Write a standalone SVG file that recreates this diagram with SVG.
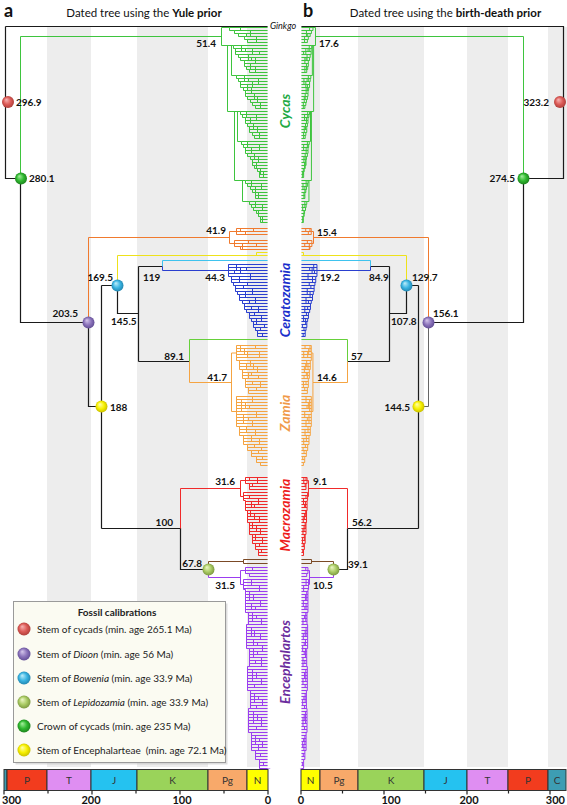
<svg xmlns="http://www.w3.org/2000/svg" xmlns:xlink="http://www.w3.org/1999/xlink" width="567" height="805" viewBox="0 0 567 805">
<style>
.t{font-family:Lato,'Liberation Sans',sans-serif;fill:#111}
.n{font-family:Lato,'Liberation Sans',sans-serif;font-weight:bold;font-size:10px;fill:#111}
.e{text-anchor:end}
.m{text-anchor:middle}
.bk{fill:none;stroke:#1a1a1a;stroke-width:1.2}
.ln{fill:none;stroke-width:1}
.tr path{vector-effect:non-scaling-stroke;stroke-width:1}
.band{fill:#ededed}
.clade{font-family:Lato,'Liberation Sans',sans-serif;font-weight:bold;font-style:italic;font-size:14px;text-anchor:middle}
.per{stroke:#333;stroke-width:1}
.pl{font-family:Lato,'Liberation Sans',sans-serif;font-size:10px;fill:#333;text-anchor:middle}
.ax{font-family:Lato,'Liberation Sans',sans-serif;font-weight:bold;font-size:11px;fill:#111}
.leg{font-family:Lato,'Liberation Sans',sans-serif;font-size:10px;fill:#222}
</style>
<defs>
<pattern id="pCy" width="6" height="3" patternUnits="userSpaceOnUse"><rect width="6" height="1" fill="#3ec43e"/></pattern>
<pattern id="pDi" width="6" height="3" patternUnits="userSpaceOnUse"><rect width="6" height="1" fill="#f07a2e"/></pattern>
<pattern id="pCe" width="6" height="3" patternUnits="userSpaceOnUse"><rect width="6" height="1" fill="#2a3fcf"/></pattern>
<pattern id="pZa" width="6" height="3" patternUnits="userSpaceOnUse"><rect width="6" height="1" fill="#f5a442"/></pattern>
<pattern id="pMa" width="6" height="3" patternUnits="userSpaceOnUse"><rect width="6" height="1" fill="#f02a2a"/></pattern>
<pattern id="pEn" width="6" height="3" patternUnits="userSpaceOnUse"><rect width="6" height="1" fill="#9b3df0"/></pattern>
<radialGradient id="gR" cx="0.5" cy="0.5" r="0.55" fx="0.35" fy="0.3"><stop offset="0" stop-color="#f7b5b5"/><stop offset="0.55" stop-color="#dc5b57"/><stop offset="1" stop-color="#a83a36"/></radialGradient>
<radialGradient id="gG" cx="0.5" cy="0.5" r="0.55" fx="0.35" fy="0.3"><stop offset="0" stop-color="#a8f0a0"/><stop offset="0.55" stop-color="#2fb82f"/><stop offset="1" stop-color="#1b7a1b"/></radialGradient>
<radialGradient id="gP" cx="0.5" cy="0.5" r="0.55" fx="0.35" fy="0.3"><stop offset="0" stop-color="#d6c8ec"/><stop offset="0.55" stop-color="#8c74bb"/><stop offset="1" stop-color="#5c4890"/></radialGradient>
<radialGradient id="gY" cx="0.5" cy="0.5" r="0.55" fx="0.35" fy="0.3"><stop offset="0" stop-color="#ffffb0"/><stop offset="0.55" stop-color="#f7f000"/><stop offset="1" stop-color="#c2b800"/></radialGradient>
<radialGradient id="gC" cx="0.5" cy="0.5" r="0.55" fx="0.35" fy="0.3"><stop offset="0" stop-color="#c0eefa"/><stop offset="0.55" stop-color="#3ab4e2"/><stop offset="1" stop-color="#1f7fa8"/></radialGradient>
<radialGradient id="gL" cx="0.5" cy="0.5" r="0.55" fx="0.35" fy="0.3"><stop offset="0" stop-color="#eef8c8"/><stop offset="0.55" stop-color="#aacb64"/><stop offset="1" stop-color="#74903a"/></radialGradient>

<g id="tCycas" class="tr">
<path fill="url(#pCy)" stroke="#3ec43e" d="M270 27.5H229.5v3h5v3h4v3h6v3h3V42.5H270Z M270 45.5H233.5v3h2v6h3v3h2v3h4v6h2v3h3V72.5H270Z M270 75.5H236.5v3h2v3h2v6h3v3h2v6h2v3h3v3h2v3h3V108.5H270Z M270 111.5H240.5v3h2v3h3v6h2v3h2v6h3v3h2V138.5H270Z M270 141.5H241.5v3h2v3h2v6h2v3h3v3h2v6h2v3h3v3h2V177.5H270Z M270 180.5H245.5v3h2v3h3v3h2v3h3V198.5H270Z M270 201.5H249.5v3h2v3h2v3h3v3h2v3h2V222.5H270Z"/>
<path fill="none" stroke="#3ec43e" d="M221.5 27.5V45.5M221.5 27.5H229.5M221.5 45.5H233.5M227.5 45.5V111.5M231.5 45.5V75.5M231.5 75.5H236.5M227.5 111.5H240.5M234.5 111.5V180.5M237.5 111.5V141.5M237.5 141.5H241.5M234.5 180.5H245.5M242.5 180.5V201.5M242.5 201.5H249.5M252.5 48.5V54.5M255.5 57.5V63.5M258.5 78.5V84.5M256.5 114.5V120.5M259.5 144.5V150.5M258.5 156.5V162.5M261.5 183.5V189.5M262.5 204.5V210.5M250.5 30.5V36.5M240.5 27.5V30.5M246.5 33.5V36.5M256.5 36.5V42.5M241.5 45.5V51.5M245.5 48.5V51.5M248.5 54.5V60.5M251.5 57.5V60.5M250.5 63.5V69.5M255.5 66.5V72.5M259.5 51.5V54.5M244.5 75.5V81.5M248.5 78.5V81.5M247.5 84.5V90.5M251.5 87.5V93.5M254.5 93.5V99.5M257.5 96.5V102.5M260.5 102.5V108.5M252.5 81.5V87.5M246.5 111.5V117.5M250.5 117.5V123.5M253.5 123.5V129.5M257.5 126.5V132.5M259.5 132.5V138.5M247.5 141.5V147.5M251.5 147.5V153.5M254.5 153.5V159.5M252.5 159.5V165.5M256.5 162.5V168.5M260.5 168.5V174.5M263.5 171.5V177.5M251.5 180.5V186.5M255.5 186.5V192.5M258.5 192.5V198.5M255.5 201.5V207.5M258.5 210.5V216.5M262.5 216.5V222.5"/>
</g>
<g id="tDioon" class="tr">
<path fill="url(#pDi)" stroke="#f07a2e" d="M270 228.5H236.5V234.5H270Z M270 240.5H234.5V246.5H240.5V249.5H270Z"/>
<path fill="none" stroke="#f07a2e" d="M229.5 231.5V243.5M229.5 231.5H236.5M229.5 243.5H234.5M245.5 231.5V234.5M242.5 243.5V249.5M248.5 240.5V243.5M240.5 228.5V231.5M253.5 228.5V231.5M256.5 243.5V246.5"/>
</g>
<g id="tCerato" class="tr">
<path fill="url(#pCe)" stroke="#2a3fcf" d="M270 264.5H228.5V276.5h3v6h2v3h2v6h2v3h2v6h3v3h2v6h2v3h3v6h2v3h2v6h2v3h2V336.5H270Z"/>
<path fill="none" stroke="#2a3fcf" d="M236.5 264.5V270.5M240.5 267.5V273.5M234.5 270.5V273.5M239.5 276.5V282.5M243.5 285.5V288.5M245.5 291.5V297.5M249.5 300.5V303.5M251.5 306.5V309.5M254.5 312.5V315.5M256.5 318.5V324.5M260.5 327.5V330.5M262.5 333.5V336.5M246.5 267.5V270.5M250.5 273.5V279.5M247.5 282.5V285.5M252.5 288.5V294.5M255.5 297.5V303.5M258.5 306.5V312.5M261.5 315.5V321.5M264.5 324.5V327.5"/>
</g>
<g id="tZamia" class="tr">
<path fill="url(#pZa)" stroke="#f5a442" d="M270 345.5H236.5V360.5H239.5V369.5H242.5V378.5H245.5V387.5H248.5V393.5H270Z M270 396.5H236.5V426.5H239.5V435.5H243.5V444.5H247.5V450.5H251.5V456.5H256.5V462.5H260.5V465.5H270Z"/>
<path fill="none" stroke="#f5a442" d="M231.5 353V411.5M231.5 353H236.5M231.5 411.5H236.5M240.5 345.5V351.5M244.5 348.5V354.5M247.5 351.5V357.5M250.5 360.5V366.5M253.5 363.5V369.5M248.5 372.5V378.5M252.5 381.5V384.5M256.5 387.5V390.5M258.5 375.5V378.5M241.5 399.5V411.5M245.5 402.5V408.5M249.5 405.5V408.5M243.5 414.5V423.5M248.5 417.5V420.5M246.5 426.5V432.5M251.5 435.5V441.5M254.5 444.5V447.5M258.5 450.5V453.5M262.5 456.5V459.5M255.5 345.5V348.5M259.5 351.5V357.5M246.5 363.5V369.5M257.5 366.5V372.5M251.5 372.5V375.5M260.5 381.5V387.5M252.5 396.5V402.5M256.5 411.5V417.5M252.5 420.5V426.5M255.5 429.5V435.5M259.5 438.5V444.5M261.5 447.5V450.5"/>
</g>
<g id="tMacro" class="tr">
<path fill="url(#pMa)" stroke="#f02a2a" d="M270 477.5H245.5V483.5H249.5V489.5H270Z M270 492.5H243.5V500.5H245.5V510.5H247.5V522.5H249.5V534.5H252.5V543.5H255.5V549.5H258.5V555.5H270Z"/>
<path fill="none" stroke="#f02a2a" d="M240.5 480.5V496.5M240.5 480.5H245.5M240.5 496.5H243.5M249.5 477.5V480.5M252.5 483.5V486.5M249.5 495.5V498.5M251.5 501.5V507.5M254.5 504.5V507.5M250.5 510.5V516.5M254.5 513.5V519.5M252.5 522.5V528.5M256.5 525.5V531.5M255.5 534.5V540.5M259.5 543.5V546.5M261.5 549.5V552.5M257.5 477.5V483.5M258.5 498.5V504.5M259.5 516.5V522.5M260.5 528.5V534.5M262.5 537.5V543.5"/>
</g>
<g id="tEnceph" class="tr">
<path fill="url(#pEn)" stroke="#9b3df0" d="M270 567.5H245.5V573.5H249.5V576.5H270Z M270 579.5H243.5V589.5H245.5V612.5H248.5V624.5H246.5V648.5H249.5V666.5H247.5V690.5H250.5V708.5H248.5V732.5H251.5V750.5H255.5V759.5H259.5V768.5H270Z"/>
<path fill="none" stroke="#9b3df0" d="M240.5 570.5V584.5M240.5 570.5H245.5M240.5 584.5H243.5M252.5 567.5V570.5M251.5 579.5V585.5M249.5 591.5V600.5M253.5 594.5V600.5M251.5 603.5V609.5M255.5 606.5V609.5M252.5 612.5V621.5M256.5 615.5V618.5M251.5 627.5V636.5M254.5 630.5V636.5M253.5 639.5V645.5M257.5 642.5V645.5M253.5 648.5V657.5M257.5 651.5V654.5M255.5 660.5V663.5M252.5 669.5V681.5M256.5 672.5V678.5M254.5 684.5V687.5M254.5 693.5V702.5M258.5 696.5V699.5M256.5 705.5V708.5M253.5 711.5V723.5M257.5 714.5V720.5M256.5 726.5V729.5M255.5 735.5V744.5M259.5 738.5V741.5M260.5 753.5V756.5M263.5 762.5V765.5M259.5 585.5V591.5M260.5 600.5V606.5M261.5 618.5V624.5M260.5 633.5V639.5M262.5 645.5V651.5M261.5 657.5V666.5M261.5 678.5V684.5M262.5 699.5V705.5M261.5 717.5V726.5M262.5 741.5V747.5M258.5 744.5V750.5"/>
</g>
</defs>

<rect width="567" height="805" fill="#fff"/>
<g id="bands">
<rect class="band" x="47" y="27" width="44" height="740"/>
<rect class="band" x="137" y="27" width="71" height="740"/>
<rect class="band" x="247" y="27" width="21" height="740"/>
<rect class="band" x="301" y="27" width="19" height="740"/>
<rect class="band" x="358" y="27" width="66" height="740"/>
<rect class="band" x="467" y="27" width="41" height="740"/>
<rect class="band" x="548" y="27" width="19" height="740"/>
</g>

<g id="clade-cycas"><use href="#tCycas"/><use href="#tCycas" transform="matrix(-0.312 0 0 1 384.6 0)"/></g>
<g id="clade-dioon"><use href="#tDioon"/><use href="#tDioon" transform="matrix(-0.325 0 0 1 388.1 0)"/></g>
<g id="clade-ceratozamia"><use href="#tCerato"/><use href="#tCerato" transform="matrix(-0.405 0 0 1 409.5 0)"/></g>
<g id="clade-zamia"><use href="#tZamia"/><use href="#tZamia" transform="matrix(-0.329 0 0 1 389.1 0)"/></g>
<g id="clade-macrozamia"><use href="#tMacro"/><use href="#tMacro" transform="matrix(-0.273 0 0 1 374.1 0)"/></g>
<g id="clade-encephalartos"><use href="#tEnceph"/><use href="#tEnceph" transform="matrix(-0.309 0 0 1 383.8 0)"/></g>

<g id="connectors">
<path class="bk" d="M5.5 26.5H268M5.5 26.5V178.5H20.5M20.5 178.5V322.5H88.5M88.5 322.5V406.5H101.5M101.5 285.5V528.5M101.5 285.5H117.5V313.5H138.5M138.5 266.5V361.5M138.5 266.5H162.5M138.5 361.5H189.5M101.5 528.5H180.5V569.5H208.5"/>
<path class="bk" d="M301 26.5H563.5V178.5H523.5M523.5 178.5V322.5H428.5M418.5 285.5V528.5M406.5 285.5H418.5M406.5 285.5V313.5H389.5M389.5 266.5V361.5M370.5 266.5H389.5M347.5 361.5H389.5M347.5 528.5H418.5M347.5 528.5V569.5H333.5"/>
<path class="ln" stroke="#666" stroke-width="1.2" d="M428.5 322.5V406.5H418.5"/>
<path class="ln" stroke="#3ec43e" d="M20.5 178.5V36.5H221.5M523.5 178.5V36.5H315.5"/>
<path class="ln" stroke="#f07a2e" d="M88.5 322.5V237.5H229.5M428.5 322.5V237.5H313.5"/>
<path class="ln" stroke="#eee21a" d="M117.5 285.5V255.5H270M256.5 252.5V255.5M256.5 252.5H270M406.5 285.5V255.5H301M303.5 252.5V255.5M303.5 252.5H301"/>
<path class="ln" stroke="#3fc3ee" stroke-width="2" d="M162.5 266.5V260.5H270M370.5 266.5V260.5H301"/>
<path class="ln" stroke="#2a3fcf" d="M162.5 266.5V270.5H228.5M370.5 266.5V270.5H317"/>
<path class="ln" stroke="#66d03a" d="M189.5 361.5V339.5H270M347.5 361.5V339.5H301"/>
<path class="ln" stroke="#f5a442" d="M189.5 361.5V382.5H231.5M347.5 361.5V382.5H313"/>
<path class="ln" stroke="#f02a2a" d="M180.5 528.5V488.5H240.5M347.5 528.5V488.5H308.5"/>
<path class="ln" stroke="#7b4a26" d="M208.5 569.5V561.5H243.5M243.5 559.5V563.5M243.5 559.5H270M243.5 563.5H270M333.5 569.5V561.5H311.5M311.5 559.5V563.5M311.5 559.5H301M311.5 563.5H301"/>
<path class="ln" stroke="#9b3df0" d="M208.5 569.5V577.5H240.5M333.5 569.5V577.5H309.5"/>
</g>

<rect x="267.6" y="20" width="33.8" height="748.5" fill="#fff"/>

<g id="markers">
<g id="node-stem-cycads-a"><circle cx="8" cy="102" r="6" fill="url(#gR)"/></g>
<g id="node-crown-cycads-a"><circle cx="21" cy="178.5" r="6" fill="url(#gG)"/></g>
<g id="node-dioon-a"><circle cx="88.5" cy="322.5" r="6" fill="url(#gP)"/></g>
<g id="node-encephalarteae-a"><circle cx="101.5" cy="406.5" r="6" fill="url(#gY)"/></g>
<g id="node-bowenia-a"><circle cx="117.5" cy="285.5" r="6" fill="url(#gC)"/></g>
<g id="node-lepidozamia-a"><circle cx="208.5" cy="569.5" r="6" fill="url(#gL)"/></g>
<g id="node-stem-cycads-b"><circle cx="560" cy="102" r="6" fill="url(#gR)"/></g>
<g id="node-crown-cycads-b"><circle cx="523.5" cy="178.5" r="6" fill="url(#gG)"/></g>
<g id="node-dioon-b"><circle cx="428.5" cy="322.5" r="6" fill="url(#gP)"/></g>
<g id="node-encephalarteae-b"><circle cx="418.5" cy="406.5" r="6" fill="url(#gY)"/></g>
<g id="node-bowenia-b"><circle cx="406.5" cy="285.5" r="6" fill="url(#gC)"/></g>
<g id="node-lepidozamia-b"><circle cx="333.5" cy="569.5" r="6" fill="url(#gL)"/></g>
</g>

<g id="titles">
<text class="t" x="4" y="17" font-size="18" font-weight="bold">a</text>
<text class="t" x="303" y="17" font-size="18" font-weight="bold">b</text>
<text class="t m" x="144" y="16.5" font-size="11.5">Dated tree using the <tspan font-weight="bold">Yule prior</tspan></text>
<text class="t m" x="445.5" y="16.5" font-size="11.5">Dated tree using the <tspan font-weight="bold">birth-death prior</tspan></text>
<text class="t m" x="283" y="28.5" font-size="9" font-style="italic" fill="#444">Ginkgo</text>
</g>

<g id="age-labels-a">
<text class="n" x="16" y="105.5">296.9</text>
<text class="n" x="29" y="182">280.1</text>
<text class="n e" x="216" y="47">51.4</text>
<text class="n e" x="226" y="234">41.9</text>
<text class="n e" x="78" y="317">203.5</text>
<text class="n e" x="113" y="281">169.5</text>
<text class="n" x="110" y="410.5">188</text>
<text class="n" x="111" y="325">145.5</text>
<text class="n" x="143" y="281">119</text>
<text class="n e" x="225" y="281">44.3</text>
<text class="n e" x="184" y="360">89.1</text>
<text class="n e" x="227" y="381">41.7</text>
<text class="n e" x="173" y="526">100</text>
<text class="n e" x="235" y="485">31.6</text>
<text class="n e" x="202" y="567">67.8</text>
<text class="n e" x="235" y="589">31.5</text>
</g>
<g id="age-labels-b">
<text class="n e" x="549" y="105.5">323.2</text>
<text class="n e" x="515" y="182">274.5</text>
<text class="n" x="319" y="47">17.6</text>
<text class="n" x="317" y="236">15.4</text>
<text class="n" x="433" y="317">156.1</text>
<text class="n" x="412" y="281">129.7</text>
<text class="n e" x="410" y="410.5">144.5</text>
<text class="n" x="391" y="325">107.8</text>
<text class="n" x="369" y="281">84.9</text>
<text class="n" x="320" y="281">19.2</text>
<text class="n" x="351" y="360">57</text>
<text class="n" x="317" y="381">14.6</text>
<text class="n" x="352" y="526">56.2</text>
<text class="n" x="313" y="485">9.1</text>
<text class="n" x="348" y="568">39.1</text>
<text class="n" x="313" y="589">10.5</text>
</g>

<g id="clade-labels">
<text class="clade" fill="#22aa44" transform="translate(290 111) rotate(-90)">Cycas</text>
<text class="clade" fill="#1a2fcc" transform="translate(290 300) rotate(-90)">Ceratozamia</text>
<text class="clade" fill="#f09a4a" transform="translate(290 413) rotate(-90)">Zamia</text>
<text class="clade" fill="#ee1c1c" transform="translate(290 515) rotate(-90)">Macrozamia</text>
<text class="clade" fill="#6b2d9e" transform="translate(290 662) rotate(-90)">Encephalartos</text>
</g>

<g id="legend">
<rect x="15.5" y="603.5" width="212" height="161" fill="#bbb" opacity="0.5"/>
<rect x="13.5" y="601.5" width="212" height="161" fill="#fbfbf2" stroke="#9a9a9a"/>
<text class="leg m" x="117" y="616" font-weight="bold" font-size="10.5">Fossil calibrations</text>
<circle cx="24" cy="629" r="6.5" fill="url(#gR)"/>
<text class="leg" x="37" y="632.5">Stem of cycads (min. age 265.1 Ma)</text>
<circle cx="24" cy="654" r="6.5" fill="url(#gP)"/>
<text class="leg" x="37" y="657.5">Stem of <tspan font-style="italic">Dioon</tspan> (min. age 56 Ma)</text>
<circle cx="24" cy="678" r="6.5" fill="url(#gC)"/>
<text class="leg" x="37" y="681.5">Stem of <tspan font-style="italic">Bowenia</tspan> (min. age 33.9 Ma)</text>
<circle cx="24" cy="702" r="6.5" fill="url(#gL)"/>
<text class="leg" x="37" y="705.5">Stem of <tspan font-style="italic">Lepidozamia</tspan> (min. age 33.9 Ma)</text>
<circle cx="24" cy="726" r="6.5" fill="url(#gG)"/>
<text class="leg" x="37" y="729.5">Crown of cycads (min. age 235 Ma)</text>
<circle cx="24" cy="750" r="6.5" fill="url(#gY)"/>
<text class="leg" x="37" y="753.5" xml:space="preserve">Stem of Encephalarteae  (min. age 72.1 Ma)</text>
</g>

<g id="axis-a">
<rect class="per" x="4" y="769.5" width="3" height="21" fill="#3d9db3"/>
<rect class="per" x="7" y="769.5" width="40" height="21" fill="#f23c1e"/>
<rect class="per" x="47" y="769.5" width="44" height="21" fill="#df8ef2"/>
<rect class="per" x="91" y="769.5" width="46" height="21" fill="#25c2f0"/>
<rect class="per" x="137" y="769.5" width="71" height="21" fill="#9ad35a"/>
<rect class="per" x="208" y="769.5" width="39" height="21" fill="#f8a96a"/>
<rect class="per" x="247" y="769.5" width="21" height="21" fill="#ffff00"/>
<text class="pl" x="27" y="784">P</text>
<text class="pl" x="69" y="784">T</text>
<text class="pl" x="114" y="784">J</text>
<text class="pl" x="172.5" y="784">K</text>
<text class="pl" x="227.5" y="784">Pg</text>
<text class="pl" x="257.5" y="784">N</text>
<path stroke="#222" stroke-width="1.2" d="M268 790.5v4M224 790.5v3M180 790.5v4M136 790.5v3M92 790.5v4M48 790.5v3M4 790.5v4"/>
<text class="ax" x="2" y="803.5">300</text>
<text class="ax m" x="91" y="803.5">200</text>
<text class="ax m" x="182" y="803.5">100</text>
<text class="ax m" x="268" y="803.5">0</text>
</g>
<g id="axis-b">
<rect class="per" x="301" y="769.5" width="19" height="21" fill="#ffff00"/>
<rect class="per" x="320" y="769.5" width="38" height="21" fill="#f8a96a"/>
<rect class="per" x="358" y="769.5" width="66" height="21" fill="#9ad35a"/>
<rect class="per" x="424" y="769.5" width="43" height="21" fill="#25c2f0"/>
<rect class="per" x="467" y="769.5" width="41" height="21" fill="#df8ef2"/>
<rect class="per" x="508" y="769.5" width="40" height="21" fill="#f23c1e"/>
<rect class="per" x="548" y="769.5" width="18" height="21" fill="#3d9db3"/>
<text class="pl" x="310.5" y="784">N</text>
<text class="pl" x="339" y="784">Pg</text>
<text class="pl" x="391" y="784">K</text>
<text class="pl" x="445.5" y="784">J</text>
<text class="pl" x="487.5" y="784">T</text>
<text class="pl" x="528" y="784">P</text>
<text class="pl" x="557" y="784">C</text>
<path stroke="#222" stroke-width="1.2" d="M301 790.5v4M342.5 790.5v3M384 790.5v4M425.5 790.5v3M467 790.5v4M508.5 790.5v3M550 790.5v4"/>
<text class="ax m" x="301" y="803.5">0</text>
<text class="ax m" x="391" y="803.5">100</text>
<text class="ax m" x="469" y="803.5">200</text>
<text class="ax e" x="565" y="803.5">300</text>
</g>
</svg>
